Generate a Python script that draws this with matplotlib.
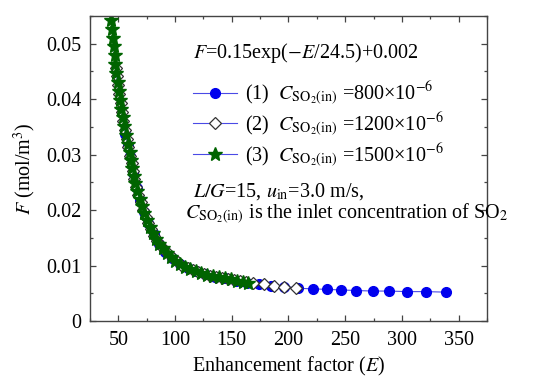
import matplotlib
matplotlib.use("Agg")
import matplotlib.pyplot as plt
from matplotlib.ticker import MultipleLocator, FixedLocator

plt.rcParams['font.family'] = 'serif'
plt.rcParams['font.serif'] = ['Liberation Serif', 'DejaVu Serif']
plt.rcParams['mathtext.fontset'] = 'stix'

# series 1: C_SO2(in) = 800e-6
E1 = [56.0, 58.2, 60.6, 63.2, 66.0, 69.0, 72.5, 76.5, 81.0, 86.0, 91.5, 97.5,
      104.0, 111.0, 118.5, 126.5, 135.0, 144.0, 153.5, 163.5, 174.0, 185.0,
      196.5, 208.5, 221.3, 233.9, 246.2, 259.6, 274.2, 288.8, 304.6, 321.0, 339.2]
F1 = [0.0338, 0.0316, 0.0297, 0.0267, 0.0240, 0.0219, 0.0197, 0.0176, 0.0156,
      0.0139, 0.0125, 0.0114, 0.0103, 0.0096, 0.0090, 0.0084, 0.0080, 0.0077,
      0.0073, 0.0069, 0.0067, 0.0064, 0.0062, 0.0059, 0.0058, 0.0057, 0.0056,
      0.0055, 0.0054, 0.0054, 0.0053, 0.0053, 0.0052]

# series 2: C_SO2(in) = 1200e-6
E2 = [47.8, 48.7, 49.7, 50.9, 52.0, 53.1, 54.3, 55.6, 57.3, 58.9, 60.6, 61.8,
      62.9, 64.2, 65.8, 67.7, 69.8, 71.9, 74.1, 76.5, 79.0, 81.6, 84.3, 87.4,
      90.7, 94.3, 98.2, 102.2, 106.5, 111.0, 115.8, 120.6, 125.6, 130.8, 136.0,
      141.2, 146.5, 151.9, 157.3, 162.8, 168.7, 178.4, 187.1, 196.5, 207.0]
F2 = [0.0457, 0.0441, 0.0425, 0.0409, 0.0393, 0.0377, 0.0361, 0.0345, 0.0329,
      0.0313, 0.0298, 0.0284, 0.0270, 0.0256, 0.0242, 0.0228, 0.0214, 0.0201,
      0.0188, 0.0176, 0.0165, 0.0154, 0.0144, 0.0135, 0.0127, 0.0120, 0.0113,
      0.0106, 0.0100, 0.0096, 0.0092, 0.0088, 0.0085, 0.0082, 0.0080, 0.0078,
      0.0076, 0.0074, 0.0072, 0.0070, 0.0069, 0.0066, 0.0064, 0.0062, 0.0060]

# series 3: C_SO2(in) = 1500e-6
E3 = [43.5, 44.3, 45.1, 45.8, 46.6, 47.4, 48.2, 49.3, 50.4, 51.6, 52.7, 53.8,
      55.0, 56.6, 58.3, 59.9, 61.2, 62.4, 63.6, 65.0, 66.8, 68.8, 70.8, 73.0,
      75.3, 77.8, 80.3, 83.0, 85.8, 89.0, 92.5, 96.2, 100.2, 104.3, 108.8,
      113.4, 118.2, 123.1, 128.2, 133.3, 138.5, 143.8, 149.2, 154.6, 160.0, 164.5]
F3 = [0.0543, 0.0527, 0.0511, 0.0495, 0.0479, 0.0463, 0.0447, 0.0431, 0.0415,
      0.0399, 0.0383, 0.0367, 0.0351, 0.0335, 0.0319, 0.0304, 0.0290, 0.0276,
      0.0262, 0.0248, 0.0234, 0.0220, 0.0207, 0.0194, 0.0182, 0.0170, 0.0159,
      0.0148, 0.0139, 0.0131, 0.0123, 0.0116, 0.0109, 0.0103, 0.0098, 0.0094,
      0.0090, 0.0086, 0.0083, 0.0081, 0.0079, 0.0077, 0.0075, 0.0073, 0.0071,
      0.0069]

x_ticks = [50, 100, 150, 200, 250, 300, 350]
y_ticks = [0, 0.01, 0.02, 0.03, 0.04, 0.05]
y_labels = ['0', '0.01', '0.02', '0.03', '0.04', '0.05']

lab = r'$C_{\mathrm{SO_2(in)}}$'
labels = [r'(1)  ' + lab + r' =800×10$^{-6}$',
          r'(2)  ' + lab + r' =1200×10$^{-6}$',
          r'(3)  ' + lab + r' =1500×10$^{-6}$']

line_col = '#4a4ae6'
fs = 14.5

fig = plt.figure(figsize=(5.4, 3.79), dpi=100)
ax = fig.add_axes([0.1667, 0.153, 0.735, 0.805])

ax.plot(E1, F1, '-', color=line_col, lw=0.8, marker='o', ms=7,
        mfc='#0000ee', mec='#0000ee', label=labels[0])
ax.plot(E2, F2, '-', color=line_col, lw=0.8, marker='D', ms=6,
        mfc='white', mec='#333333', mew=0.9, label=labels[1])
ax.plot(E3, F3, '-', color=line_col, lw=0.8, marker='*', ms=10,
        mfc='#006400', mec='#006400', label=labels[2])

ax.set_xlim(25, 375)
ax.set_ylim(0, 0.055)
ax.xaxis.set_major_locator(FixedLocator(x_ticks))
ax.xaxis.set_minor_locator(MultipleLocator(25))
ax.yaxis.set_major_locator(FixedLocator(y_ticks))
ax.yaxis.set_minor_locator(MultipleLocator(0.005))
ax.set_yticklabels(y_labels)
ax.tick_params(which='both', direction='in', top=True, right=True,
               labelsize=fs, width=0.9, color='#444444')
ax.tick_params(which='major', length=4.5)
ax.tick_params(which='minor', length=2.5)
ax.tick_params(axis='x', pad=7)
ax.tick_params(axis='y', pad=6)
for s in ax.spines.values():
    s.set_color('#444444')
    s.set_linewidth(1.0)

ax.set_xlabel(r'Enhancement factor ($E$)', fontsize=fs, labelpad=4)
ax.set_ylabel(r'$F$ (mol/m$^3$)', fontsize=fs, labelpad=6)

fig.text(0.357, 0.846, r'$F$=0.15exp($-E$/24.5)+0.002', fontsize=fs,
         va='baseline')
fig.text(0.357, 0.481, r'$L/G$=15, $u_{\mathrm{in}}$=3.0 m/s,', fontsize=fs,
         va='baseline')
fig.text(0.343, 0.424, lab + r' is the inlet concentration of SO$_2$',
         fontsize=fs, va='baseline')

ax.legend(loc='upper left', bbox_to_anchor=(0.357, 0.79),
          bbox_transform=fig.transFigure, frameon=False, fontsize=fs,
          handlelength=2.2, handletextpad=0.4, labelspacing=0.12,
          borderpad=0, borderaxespad=0)

fig.savefig('out.png', dpi=100)
